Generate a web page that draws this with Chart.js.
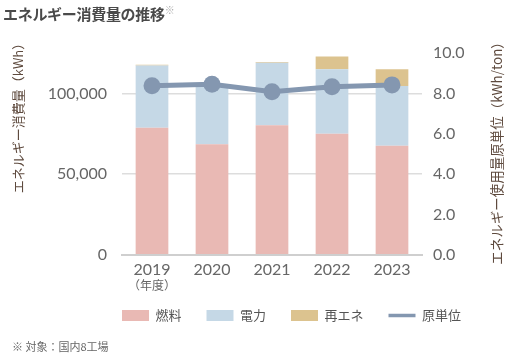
<!DOCTYPE html>
<html><head><meta charset="utf-8">
<script src="https://cdn.jsdelivr.net/npm/chart.js@4"></script>
<style>
html,body{margin:0;padding:0;background:#fff;}
#wrap{position:relative;width:515px;height:360px;}
#title{position:absolute;left:3px;top:2px;font:bold 15px "Noto Sans CJK JP";color:#4a4a4a;white-space:nowrap;letter-spacing:-0.3px}
#title sup{font-size:10px;color:#aaa;font-weight:normal;vertical-align:6px}
#note{position:absolute;left:12px;top:338px;font:11px "Noto Sans CJK JP";color:#666;white-space:nowrap}
</style></head>
<body><div id="wrap">
<canvas id="c" width="515" height="360"></canvas>
<div id="title">エネルギー消費量の推移<sup>※</sup></div>
<div id="note">※ 対象：国内8工場</div>
</div>
<script>
const years = ['2019','2020','2021','2022','2023'];
const fuel = [78700, 68500, 80200, 75000, 67500];
const electricity = [38500, 36500, 38700, 40000, 37100];
const renewable = [500, 0, 500, 7900, 10400];
const intensity = [8.38, 8.45, 8.08, 8.33, 8.42];
const leftTicks = [0, 50000, 100000];
const rightTicks = [0, 2, 4, 6, 8, 10];
const seriesNames = ['燃料','電力','再エネ','原単位'];
const leftTitle = 'エネルギー消費量（kWh）';
const rightTitle = 'エネルギー使用量原単位（kWh/ton）';
const yearNote = '（年度）';

const titleColor = '#5e4a3e';
const tickColor = '#666';
const numFont = 'Lato, "Noto Sans CJK JP", sans-serif';
const jpFont = '"Noto Sans CJK JP", sans-serif';

const extras = {
  id:'extras',
  afterLayout(chart){
    const lg = chart.legend;
    if (lg) { lg.left += 34; lg.right += 34; }
  },
  afterDraw(chart){
    const ctx = chart.ctx;
    ctx.save();
    ctx.fillStyle = titleColor;
    ctx.textAlign='center'; ctx.textBaseline='middle';
    ctx.font = '13px ' + jpFont;
    ctx.save(); ctx.translate(18,115); ctx.rotate(-Math.PI/2); ctx.fillText(leftTitle,0,0); ctx.restore();
    ctx.font = '13.5px ' + jpFont;
    ctx.save(); ctx.translate(497,150); ctx.rotate(-Math.PI/2); ctx.fillText(rightTitle,0,0); ctx.restore();
    ctx.fillStyle = tickColor;
    ctx.font = '12px ' + jpFont;
    ctx.fillText(yearNote, chart.scales.x.getPixelForValue(0), 285);
    ctx.restore();
  }
};

new Chart(document.getElementById('c'), {
  type:'bar',
  data:{
    labels: years,
    datasets:[
      {label:seriesNames[0], data:fuel, backgroundColor:'#e9b9b4', yAxisID:'y', order:2, stack:'s'},
      {label:seriesNames[1], data:electricity, backgroundColor:'#c5d8e6', yAxisID:'y', order:2, stack:'s'},
      {label:seriesNames[2], data:renewable, backgroundColor:'#dcc38f', yAxisID:'y', order:2, stack:'s'},
      {type:'line', label:seriesNames[3], data:intensity, yAxisID:'y1', order:0,
       borderColor:'#8497b0', backgroundColor:'#8497b0', borderWidth:5,
       pointRadius:8.5, pointHoverRadius:8.5, pointBorderWidth:0, tension:0}
    ]
  },
  options:{
    responsive:false, animation:false,
    layout:{padding:{top:53,bottom:28,left:0,right:0}},
    datasets:{bar:{barPercentage:0.545, categoryPercentage:1}},
    plugins:{
      tooltip:{enabled:false},
      legend:{
        position:'bottom',
        labels:{
          font:{size:13, family:jpFont}, color:'#555', padding:25,
          usePointStyle:true, pointStyleWidth:27, boxHeight:11,
          generateLabels(chart){
            return chart.data.datasets.map((ds,i)=>({
              text: ds.label, datasetIndex:i,
              fillStyle: ds.backgroundColor,
              strokeStyle: ds.type==='line' ? ds.borderColor : ds.backgroundColor,
              lineWidth: ds.type==='line' ? 3.5 : 0,
              pointStyle: ds.type==='line' ? 'line' : 'rect',
              fontColor:'#555', hidden:false
            }));
          }
        }
      }
    },
    scales:{
      x:{
        stacked:true,
        grid:{display:false, drawTicks:false},
        border:{display:true, color:'#cfcfcf', width:2},
        ticks:{font:{size:16, family:numFont}, color:tickColor, padding:5}
      },
      y:{
        stacked:true, position:'left', min:0, max:125000,
        afterBuildTicks(s){ s.ticks = leftTicks.map(v=>({value:v})); },
        afterFit(s){ s.width = 122; },
        grid:{color:'#dddddd', lineWidth:1.5, drawTicks:false},
        border:{display:false},
        ticks:{font:{size:16, family:numFont}, color:tickColor, padding:15,
          callback:v=>v.toLocaleString('en-US')}
      },
      y1:{
        position:'right', min:0, max:10,
        afterBuildTicks(s){ s.ticks = rightTicks.map(v=>({value:v})); },
        afterFit(s){ s.width = 93; },
        grid:{drawOnChartArea:false, drawTicks:false},
        border:{display:false},
        ticks:{font:{size:16, family:numFont}, color:tickColor, padding:11,
          callback:v=>v.toFixed(1)}
      }
    }
  },
  plugins:[extras]
});
</script>
</body></html>
